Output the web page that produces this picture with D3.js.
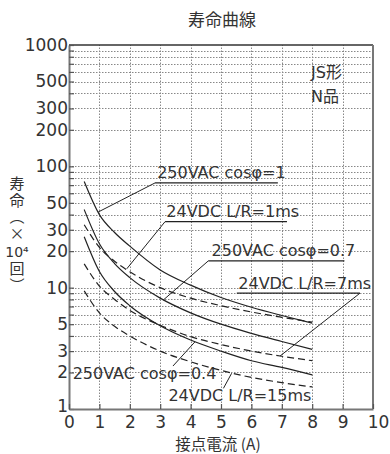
<!DOCTYPE html>
<html>
<head>
<meta charset="utf-8">
<script src="https://cdnjs.cloudflare.com/ajax/libs/d3/7.8.5/d3.min.js"></script>
<style>
body { margin: 0; background: #fff; }
text { fill: #333; }
</style>
</head>
<body>
<div id="chart"></div>
<script>
var width = 390, height = 454;
var margin = {top: 45, right: 17, bottom: 45, left: 69};

// contact current (A), same x for every curve
var current = [0.5, 1, 1.5, 2, 3, 4, 5, 6, 7, 8];

// life (x10^4 operations)
var ac_cos1   = [75, 40, 28.5, 22, 14, 10.5, 8.3, 6.9, 5.9, 5.1];
var ac_cos07  = [44, 23, 15.8, 12.1, 8.2, 6.2, 5.0, 4.2, 3.6, 3.1];
var ac_cos04  = [26.3, 13.6, 9.3, 7.1, 4.85, 3.7, 3.0, 2.5, 2.2, 1.91];
var dc_1ms    = [33, 21.5, 16.5, 13.5, 10.0, 8.2, 7.1, 6.3, 5.7, 5.2];
var dc_7ms    = [15.7, 10.3, 8.0, 6.5, 4.9, 3.95, 3.4, 3.0, 2.72, 2.5];
var dc_15ms   = [9.4, 6.2, 4.8, 4.0, 3.0, 2.45, 2.08, 1.82, 1.65, 1.52];

var curves = [
	{name: "250VAC cosφ=1",   values: ac_cos1,  dashed: false},
	{name: "250VAC cosφ=0.7", values: ac_cos07, dashed: false},
	{name: "250VAC cosφ=0.4", values: ac_cos04, dashed: false},
	{name: "24VDC L/R=1ms",   values: dc_1ms,   dashed: true},
	{name: "24VDC L/R=7ms",   values: dc_7ms,   dashed: true},
	{name: "24VDC L/R=15ms",  values: dc_15ms,  dashed: true}
];

var xTicks = [0, 1, 2, 3, 4, 5, 6, 7, 8, 9, 10];
var yLabels = [1, 2, 3, 5, 10, 20, 30, 50, 100, 200, 300, 500, 1000];

// callouts in chart units: text baseline, optional underline [x1, x2, y], leader line
var callouts = [
	{text: "250VAC cosφ=1",   x: 2.9,  y: 80,   under: [2.83, 6.87, 73],  leader: [[2.83, 73], [0.96, 42]]},
	{text: "24VDC L/R=1ms",   x: 3.2,  y: 38,   under: [3.16, 7.17, 35],  leader: [[3.16, 35], [1.9, 14.3]]},
	{text: "250VAC cosφ=0.7", x: 4.69, y: 18.2, under: [4.58, 9.06, 16.6], leader: [[4.58, 16.6], [3.1, 7.9]]},
	{text: "24VDC L/R=7ms",   x: 5.57, y: 9.8,  under: [5.52, 9.57, 9.0], leader: [[9.57, 9.0], [6.94, 2.73]]},
	{text: "250VAC cosφ=0.4", x: 0.12, y: 1.78, under: null, leader: [[3.42, 2.26], [4.14, 3.57]]},
	{text: "24VDC L/R=15ms",  x: 3.27, y: 1.16, under: null, leader: [[5.08, 1.48], [5.35, 1.97]]}
];

var svg = d3.select("#chart")
	.append("svg")
	.attr("width", width)
	.attr("height", height);

var x = d3.scaleLinear()
	.domain([0, 10])
	.range([margin.left, width - margin.right]);

var y = d3.scaleLog()
	.domain([1, 1000])
	.range([height - margin.bottom, margin.top]);

// every 1..9 step of each decade
var minorValues = [];
[1, 10, 100].forEach(function(dec){
	for (var i = 1; i < 10; i++) minorValues.push(i * dec);
});
minorValues.push(1000);

function px(v){ return Math.round(v) + 0.5; }

// dotted grid, drawn as one path per direction
var hPath = minorValues.filter(function(v){ return v > 1 && v < 1000; })
	.map(function(d){ return "M" + x(0) + "," + px(y(d)) + "H" + x(10); }).join("");
var vPath = xTicks.filter(function(v){ return v > 0 && v < 10; })
	.map(function(d){ return "M" + px(x(d)) + "," + y(1) + "V" + y(1000); }).join("");

svg.append("path")
	.attr("class", "grid")
	.attr("d", hPath + vPath)
	.attr("fill", "none")
	.attr("stroke", "#888")
	.attr("stroke-width", 1)
	.attr("stroke-dasharray", "1.5,1.5");

// frame: top and right
svg.append("line")
	.attr("x1", x(0)).attr("x2", x(10))
	.attr("y1", y(1000)).attr("y2", y(1000))
	.attr("stroke", "#333").attr("stroke-width", 1.5);
svg.append("line")
	.attr("x1", x(10)).attr("x2", x(10))
	.attr("y1", y(1000)).attr("y2", y(1))
	.attr("stroke", "#777").attr("stroke-width", 2);

// axes
var yAxis = d3.axisLeft(y)
	.tickValues(minorValues)
	.tickSizeInner(-5)
	.tickSizeOuter(0)
	.tickPadding(1)
	.tickFormat(function(d){ return yLabels.indexOf(d) >= 0 ? d : ""; });

var gy = svg.append("g")
	.attr("transform", "translate(" + x(0) + ",0)")
	.call(yAxis);

var xAxis = d3.axisBottom(x)
	.tickValues(xTicks)
	.tickSizeInner(-5)
	.tickSizeOuter(0)
	.tickPadding(7)
	.tickFormat(d3.format("d"));

var gx = svg.append("g")
	.attr("transform", "translate(0," + y(1) + ")")
	.call(xAxis);

[gx, gy].forEach(function(g){
	g.select(".domain").attr("stroke", "#777").attr("stroke-width", 2);
	g.selectAll(".tick line").attr("stroke", "#555").attr("stroke-width", 1.2);
	g.selectAll(".tick text")
		.attr("font-family", "DejaVu Sans")
		.attr("font-size", 17)
		.attr("fill", "#333");
});
gx.selectAll(".tick text").filter(function(d){ return d === 10; }).attr("dx", 5);
// "1" sits a little higher so it clears the "0" below
gy.selectAll(".tick text").filter(function(d){ return d === 1; }).attr("dy", "0.12em");

// curves
var line = d3.line()
	.x(function(d){ return x(d[0]); })
	.y(function(d){ return y(d[1]); })
	.curve(d3.curveMonotoneX);

svg.selectAll(".curve")
	.data(curves)
	.enter().append("path")
	.attr("class", "curve")
	.attr("d", function(c){
		return line(current.map(function(xv, i){ return [xv, c.values[i]]; }));
	})
	.attr("fill", "none")
	.attr("stroke", "#222")
	.attr("stroke-width", 1.2)
	.attr("stroke-dasharray", function(c){ return c.dashed ? "7,4" : null; });

// callout labels
var co = svg.selectAll(".callout")
	.data(callouts)
	.enter().append("g")
	.attr("class", "callout");

co.append("text")
	.text(function(d){ return d.text; })
	.attr("x", function(d){ return x(d.x); })
	.attr("y", function(d){ return y(d.y); })
	.attr("font-family", "DejaVu Sans")
	.attr("font-size", 16);

co.filter(function(d){ return d.under; })
	.append("line")
	.attr("x1", function(d){ return x(d.under[0]); })
	.attr("x2", function(d){ return x(d.under[1]); })
	.attr("y1", function(d){ return y(d.under[2]); })
	.attr("y2", function(d){ return y(d.under[2]); })
	.attr("stroke", "#222").attr("stroke-width", 1.2);

co.append("line")
	.attr("x1", function(d){ return x(d.leader[0][0]); })
	.attr("y1", function(d){ return y(d.leader[0][1]); })
	.attr("x2", function(d){ return x(d.leader[1][0]); })
	.attr("y2", function(d){ return y(d.leader[1][1]); })
	.attr("stroke", "#222").attr("stroke-width", 1);

// title and notes
svg.append("text")
	.text("寿命曲線")
	.attr("x", 222)
	.attr("y", 26)
	.attr("text-anchor", "middle")
	.attr("font-family", "Noto Sans CJK JP")
	.attr("font-size", 17);

svg.append("text")
	.text("JS形")
	.attr("x", 311)
	.attr("y", 78)
	.attr("font-family", "DejaVu Sans, Noto Sans CJK JP")
	.attr("font-size", 16);
svg.append("text")
	.text("N品")
	.attr("x", 311)
	.attr("y", 102)
	.attr("font-family", "DejaVu Sans, Noto Sans CJK JP")
	.attr("font-size", 16);

svg.append("text")
	.text("接点電流 (A)")
	.attr("x", 218)
	.attr("y", 450)
	.attr("text-anchor", "middle")
	.attr("font-family", "Noto Sans CJK JP")
	.attr("font-size", 15.5);

// vertical y title, split round the horizontal "10⁴"
svg.append("text")
	.text("寿命（×")
	.attr("x", 17)
	.attr("y", 176)
	.attr("writing-mode", "vertical-rl")
	.attr("letter-spacing", 1.5)
	.attr("font-family", "Noto Sans CJK JP")
	.attr("font-size", 15);
svg.append("text")
	.text("10⁴")
	.attr("x", 17)
	.attr("y", 252)
	.attr("dy", "0.35em")
	.attr("text-anchor", "middle")
	.attr("font-family", "DejaVu Sans")
	.attr("font-size", 14);
svg.append("text")
	.text("回）")
	.attr("x", 17)
	.attr("y", 261)
	.attr("writing-mode", "vertical-rl")
	.attr("letter-spacing", 1.5)
	.attr("font-family", "Noto Sans CJK JP")
	.attr("font-size", 15);
</script>
</body>
</html>
